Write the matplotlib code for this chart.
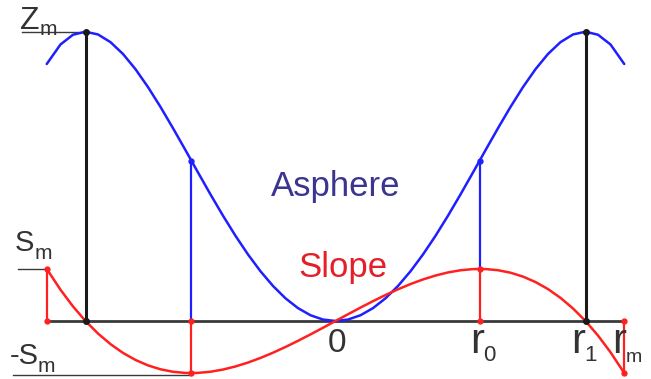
import matplotlib.pyplot as plt

plt.rcParams['font.family'] = ['Liberation Sans', 'DejaVu Sans']

# radius in units of r1, surface height in units of z_m, slope in units of s_m
r = [-1.155, -1.10, -1.05, -1.00, -0.95, -0.90, -0.85, -0.80, -0.75, -0.70, -0.65, -0.60,
     -0.55, -0.50, -0.45, -0.40, -0.35, -0.30, -0.25, -0.20, -0.15, -0.10, -0.05, 0.0,
     0.05, 0.10, 0.15, 0.20, 0.25, 0.30, 0.35, 0.40, 0.45, 0.50, 0.55, 0.60,
     0.65, 0.70, 0.75, 0.80, 0.85, 0.90, 0.95, 1.00, 1.05, 1.10, 1.155]
asphere = [0.8884, 0.9559, 0.9895, 1.0000, 0.9905, 0.9639, 0.9230, 0.8704, 0.8086, 0.7399,
           0.6665, 0.5904, 0.5135, 0.4375, 0.3640, 0.2944, 0.2300, 0.1719, 0.1211, 0.0784,
           0.0445, 0.0199, 0.0050, 0.0,
           0.0050, 0.0199, 0.0445, 0.0784, 0.1211, 0.1719, 0.2300, 0.2944, 0.3640, 0.4375,
           0.5135, 0.5904, 0.6665, 0.7399, 0.8086, 0.8704, 0.9230, 0.9639, 0.9905, 1.0000,
           0.9895, 0.9559, 0.8884]
slope = [1.0, 0.6001, 0.2796, 0.0, -0.2406, -0.4443, -0.6128, -0.7482, -0.8525, -0.9275,
         -0.9752, -0.9977, -0.9967, -0.9743, -0.9324, -0.8729, -0.7979, -0.7093, -0.6089,
         -0.4988, -0.3809, -0.2572, -0.1296, 0.0,
         0.1296, 0.2572, 0.3809, 0.4988, 0.6089, 0.7093, 0.7979, 0.8729, 0.9324, 0.9743,
         0.9967, 0.9977, 0.9752, 0.9275, 0.8525, 0.7482, 0.6128, 0.4443, 0.2406, 0.0,
         -0.2796, -0.6001, -1.0]

r0, r1, rm = 0.578, 1.0, 1.155
z_r0, z_r1 = 0.553, 1.0
s_r0, s_rm = 1.0, 1.0

SCALE = 0.18  # slope drawn at this fraction of the height axis

BLUE = '#1f1fff'
RED = '#ff2020'
DARK = '#1a1a1a'
GREY = '#3a3a3a'

fig = plt.figure(figsize=(6.51, 3.79), dpi=100)
ax = fig.add_axes([0, 0, 1, 1])
ax.set_xlim(-1.342, 1.262)
ax.set_ylim(-0.2005, 1.1096)
ax.axis('off')

sl = [s * SCALE for s in slope]

# baseline
ax.plot([-rm, rm], [0, 0], color=GREY, lw=2, zorder=1)

# r1 verticals
for x in (-r1, r1):
    ax.plot([x, x], [0, z_r1], color=DARK, lw=2.2, zorder=2)

# r0 verticals
ax.plot([-r0, -r0], [0, z_r0], color=BLUE, lw=1.6, zorder=2)
ax.plot([r0, r0], [s_r0 * SCALE, z_r0], color=BLUE, lw=1.6, zorder=2)
ax.plot([-r0, -r0], [0, -s_r0 * SCALE], color=RED, lw=1.6, zorder=2)
ax.plot([r0, r0], [0, s_r0 * SCALE], color=RED, lw=1.6, zorder=2)

# rim verticals
ax.plot([-rm, -rm], [0, s_rm * SCALE], color=RED, lw=1.6, zorder=2)
ax.plot([rm, rm], [0, -s_rm * SCALE], color=RED, lw=1.6, zorder=2)

ax.plot(r, asphere, color=BLUE, lw=1.8, zorder=3, solid_capstyle='round')
ax.plot(r, sl, color=RED, lw=1.8, zorder=3, solid_capstyle='round')

# end points
ax.plot([-r1, r1, -r1, r1], [z_r1, z_r1, 0, 0], 'o', color=DARK, ms=4, zorder=4)
ax.plot([-r0, r0], [z_r0, z_r0], 'o', color=BLUE, ms=3.5, zorder=4)
ax.plot([-r0, r0, -r0, r0, -rm, -rm, rm, rm],
        [0, 0, -s_r0 * SCALE, s_r0 * SCALE, 0, s_rm * SCALE, 0, -s_rm * SCALE],
        'o', color=RED, ms=3.5, zorder=4)

# guide lines for the level labels
ax.plot([-1.254, -r1], [z_r1, z_r1], color=GREY, lw=1, zorder=1)
ax.plot([-1.27, -rm], [s_rm * SCALE, s_rm * SCALE], color=GREY, lw=1, zorder=1)
ax.plot([-1.29, -r0], [-s_r0 * SCALE - 0.008, -s_r0 * SCALE - 0.008], color=GREY, lw=1, zorder=1)


def px(x, y):
    return x / 651, 1 - y / 379


def label(x, y, main, sub, size, subsize, dx, dy, color='#333333', ha='left'):
    fig.text(*px(x, y), main, fontsize=size, color=color, ha=ha, va='baseline')
    fig.text(*px(x + dx, y + dy), sub, fontsize=subsize, color=color, ha='left', va='baseline')


label(20, 29, 'Z', 'm', 23, 15, 20, 6)
label(15, 251, 'S', 'm', 21, 15, 20, 8)
label(10, 364, '-S', 'm', 21, 15, 28, 8)

fig.text(*px(337, 352), '0', fontsize=24, color='#333333', ha='center', va='baseline')
label(470, 353, 'r', '0', 30, 16, 13, 8)
label(571, 353, 'r', '1', 30, 16, 13, 8)
label(612, 353, 'r', 'm', 30, 14, 14, 9)

fig.text(*px(336, 196), 'Asphere', fontsize=25, color='#3b3590', ha='center', va='baseline')
fig.text(*px(343, 277), 'Slope', fontsize=25, color='#e3202a', ha='center', va='baseline')

fig.savefig('out.png', dpi=100)
